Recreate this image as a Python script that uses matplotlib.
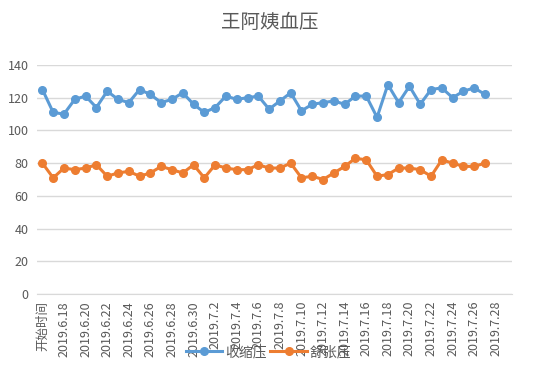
import matplotlib
matplotlib.use("Agg")
import matplotlib.pyplot as plt

plt.rcParams['font.family'] = ['Noto Sans CJK SC', 'DejaVu Sans']

# categories: start label + daily dates 2019.6.17 .. 2019.7.29
dates = ['开始时间'] + ['2019.6.%d' % d for d in range(17, 31)] + ['2019.7.%d' % d for d in range(1, 30)]

systolic = [125, 111, 110, 119, 121, 114, 124, 119, 117, 125, 122, 117, 119, 123, 116,
            111, 114, 121, 119, 120, 121, 113, 118, 123, 112, 116, 117, 118, 116, 121,
            121, 108, 128, 117, 127, 116, 125, 126, 120, 124, 126, 122]
diastolic = [80, 71, 77, 76, 77, 79, 72, 74, 75, 72, 74, 78, 76, 74, 79,
             71, 79, 77, 76, 76, 79, 77, 77, 80, 71, 72, 70, 74, 78, 83,
             82, 72, 73, 77, 77, 76, 72, 82, 80, 78, 78, 80]

yticks = [0, 20, 40, 60, 80, 100, 120, 140]

blue = '#5b9bd5'
orange = '#ed7d31'
grey_txt = '#595959'

fig = plt.figure(figsize=(5.4, 3.78), dpi=100)
ax = fig.add_axes([37 / 540, 1 - 294 / 378, 475 / 540, 229 / 378])

x = range(len(systolic))
ax.plot(x, systolic, color=blue, lw=2.2, marker='o', ms=5.5, label='收缩压')
ax.plot(x, diastolic, color=orange, lw=2.2, marker='o', ms=5.5, label='舒张压')

ax.set_xlim(-0.5, len(dates) - 0.5)
ax.set_ylim(0, 140)
ax.set_yticks(yticks)
ax.set_xticks(range(0, len(dates), 2))
ax.set_xticklabels(dates[::2], rotation=90, fontsize=9, color=grey_txt)
ax.tick_params(axis='y', labelsize=9, labelcolor=grey_txt, length=0, pad=6)
ax.tick_params(axis='x', length=0, pad=5)

ax.grid(axis='y', color='#d9d9d9', lw=1)
ax.set_axisbelow(True)
for s in ['top', 'right', 'left']:
    ax.spines[s].set_visible(False)
ax.spines['bottom'].set_color('#d9d9d9')

fig.text(0.5, 1 - 22 / 378, '王阿姨血压', ha='center', va='center', fontsize=14, color=grey_txt)

fig.legend(loc='center', bbox_to_anchor=(0.497, 1 - 352 / 378), ncol=2, frameon=False,
           fontsize=10, handlelength=2.6, columnspacing=0.3, handletextpad=0.2,
           labelcolor=grey_txt)

fig.savefig('out.png', dpi=100)
